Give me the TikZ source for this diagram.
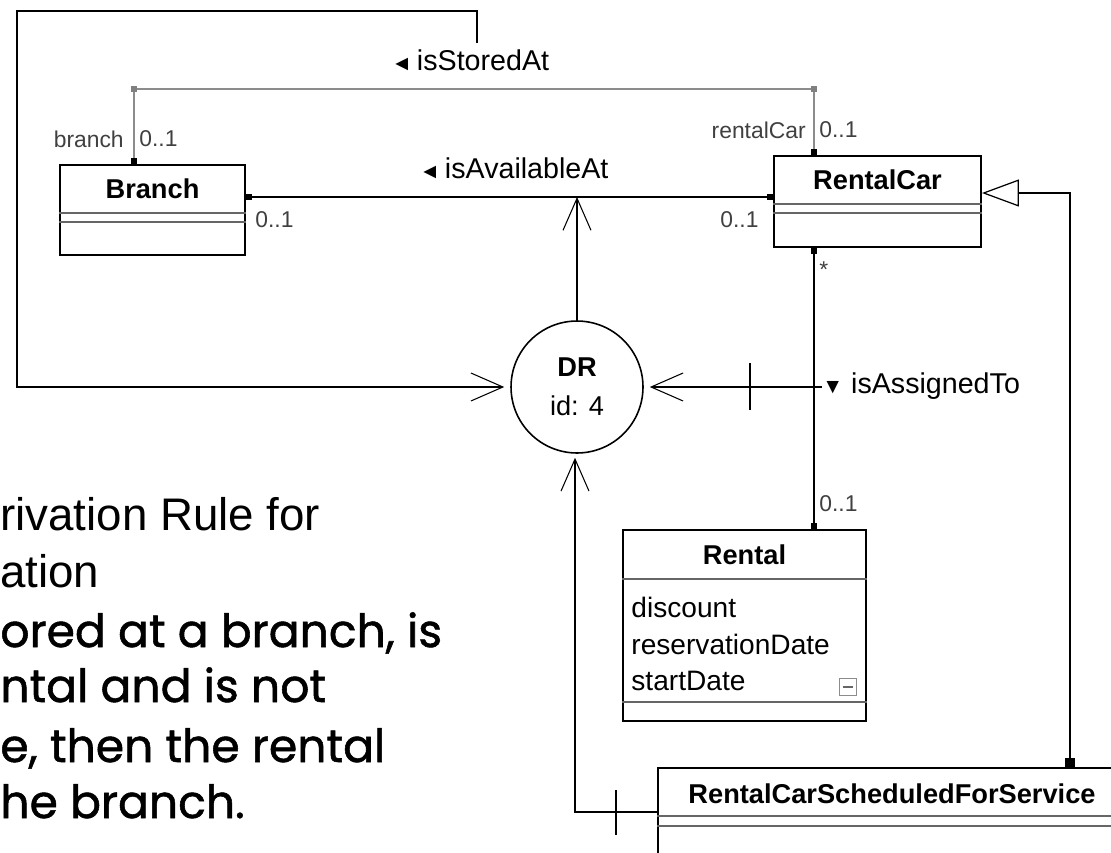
\documentclass[tikz,border=0pt]{standalone}
\usepackage{fontspec}
\setmainfont{Liberation Sans}
\newfontfamily\handfont[FakeBold=1.2]{Poppins}
\usetikzlibrary{arrows.meta,calc}

\begin{document}
\begin{tikzpicture}[x=0.02cm,y=-0.02cm,
  classbox/.style={draw,line width=1.1pt,fill=white,inner sep=0pt},
  compline/.style={black!60,line width=0.8pt},
  clsname/.style={font=\fontsize{15.5}{18}\selectfont\bfseries,inner sep=0pt},
  attr/.style={font=\fontsize{16}{18}\selectfont,inner sep=0pt,anchor=west},
  assocname/.style={font=\fontsize{16.3}{18}\selectfont,inner sep=0pt,anchor=west},
  role/.style={font=\fontsize{13}{15}\selectfont,text=black!75,inner sep=0pt},
  assoc/.style={line width=1.1pt},
  assocgray/.style={line width=1.1pt,black!45},
  ends/.style={arrows={Square[length=3.5pt,width=3.5pt,color=black]-Square[length=3.5pt,width=3.5pt,color=black]}},
  derive/.style={line width=1.1pt,-{Straight Barb[length=0.64cm,width=0.56cm,line width=0.6pt]}},
  rulenode/.style={circle,draw,line width=0.9pt,minimum size=2.64cm,inner sep=0pt,align=center,font=\fontsize{15.5}{22}\selectfont},
  slide/.style={font=\fontsize{26}{32}\selectfont,inner sep=0pt,anchor=base west},
  hand/.style={font=\handfont\fontsize{26}{32}\selectfont,inner sep=0pt,anchor=base west}]
\clip (0,0) rectangle (1111,852);

\coordinate (st1) at (134,89);
\coordinate (st2) at (814,89);
\coordinate (avl) at (580,197);
\coordinate (asg) at (814,387);
\coordinate (gen) at (1070,193);
\coordinate (svc) at (575,812);
\coordinate (fr1) at (477,43);
\coordinate (fr2) at (477,11);
\coordinate (fr3) at (17,11);

\node[classbox,minimum width=3.7cm,minimum height=1.8cm] (branch) at (152.5,210) {};
\node[clsname] (branchname) at ($(branch.north)+(0,25)$) {Branch};
\draw[compline] ($(branch.north west)+(0,49)$) -- ($(branch.north east)+(0,49)$);
\draw[compline] ($(branch.north west)+(0,58)$) -- ($(branch.north east)+(0,58)$);

\node[classbox,minimum width=4.14cm,minimum height=1.82cm] (rentalcar) at (877.5,201.5) {};
\node[clsname] (rentalcarname) at ($(rentalcar.north)+(0,25)$) {RentalCar};
\draw[compline] ($(rentalcar.north west)+(0,49)$) -- ($(rentalcar.north east)+(0,49)$);
\draw[compline] ($(rentalcar.north west)+(0,58)$) -- ($(rentalcar.north east)+(0,58)$);

\node[classbox,minimum width=4.86cm,minimum height=3.82cm] (rental) at (744.5,625.5) {};
\node[clsname] (rentalname) at ($(rental.north)+(0,26)$) {Rental};
\draw[compline] ($(rental.north west)+(0,50)$) -- ($(rental.north east)+(0,50)$);
\node[attr] (discount) at ($(rental.north west)+(9,78)$) {discount};
\node[attr] (resdate) at ($(rental.north west)+(9,115)$) {reservationDate};
\node[attr] (startdate) at ($(rental.north west)+(9,152)$) {startDate};
\node[draw=black!45,line width=0.6pt,minimum size=0.34cm,inner sep=0pt] (fold) at (848,687) {};
\draw[black!60,line width=0.6pt] ($(fold.west)+(4,0)$) -- ($(fold.east)+(-4,0)$);
\draw[compline] ($(rental.north west)+(0,173)$) -- ($(rental.north east)+(0,173)$);

\node[classbox,minimum width=9.36cm,minimum height=3.2cm] (service) at (892,848) {};
\node[clsname] (servicename) at ($(service.north)+(0,27)$) {RentalCarScheduledForService};
\draw[compline] ($(service.north west)+(0,49)$) -- ($(service.north east)+(0,49)$);
\draw[compline] ($(service.north west)+(0,59)$) -- ($(service.north east)+(0,59)$);

\node[rulenode] (dr) at (577,387) {\textbf{DR}\\id: 4};

\draw[assocgray,ends] (st1 |- branch.north) -- (st1) -- (st2) -- (st2 |- rentalcar.north);
\fill[black!50] ($(st1)+(-3,-3)$) rectangle ++(6,6);
\fill[black!50] ($(st2)+(-3,-3)$) rectangle ++(6,6);
\node[assocname] (storedlabel) at (391,60) {{\fontsize{12}{12}\selectfont ◄}\,isStoredAt};
\node[role,anchor=east] (branchrole) at (124,139) {branch};
\node[role,anchor=west] (branchmult) at (139,139) {0..1};
\node[role,anchor=east] (carrole) at (806,130) {rentalCar};
\node[role,anchor=west] (carmult) at (819,130) {0..1};

\draw[assoc,ends] (avl -| branch.east) -- (avl -| rentalcar.west);
\node[assocname] (availlabel) at (419,168) {{\fontsize{12}{12}\selectfont ◄}\,isAvailableAt};
\node[role,anchor=west] (availmult1) at (255,220) {0..1};
\node[role,anchor=west] (availmult2) at (720,220) {0..1};

\draw[assoc,ends] (rentalcar.south -| asg) -- (rental.north -| asg);
\draw[assoc] (asg) -- ++(8,0);
\node[assocname] (assignlabel) at (822,386) {{\fontsize{12}{12}\selectfont ▼}\ isAssignedTo};
\node[role,anchor=west] (assignmult1) at (819,270) {*};
\node[role,anchor=west] (assignmult2) at (819,504) {0..1};

\draw[assoc,{Square[length=5pt,width=6pt]}-{Triangle[open,fill=white,length=0.74cm,width=0.54cm,line width=0.7pt]}] (service.north -| gen) -- (gen) -- (gen -| rentalcar.east);

\draw[derive] (fr1) -- (fr2) -- (fr3) -- (fr3 |- dr.west) -- ($(dr.west)+(-6,0)$);
\draw[derive] (dr.north) -- (dr.north |- avl);
\draw[derive] (asg) -- ($(dr.east)+(6,0)$);
\draw[assoc] ($(asg)+(-64,-24)$) -- ++(0,47);
\draw[derive] (svc -| service.west) -- (svc) -- ($(svc |- dr.south)+(0,4)$);
\draw[assoc] ($(svc)+(41,-22)$) -- ++(0,45);

\node[slide] (rule1) at (0,530) {rivation Rule for};
\node[slide] (rule2) at (0,587) {ation};
\node[hand] (hand1) at (0,647) {ored at a branch, is};
\node[hand] (hand2) at (0,702) {ntal and is not};
\node[hand] (hand3) at (0,762) {e, then the rental};
\node[hand] (hand4) at (0,818) {he branch.};
\end{tikzpicture}
\end{document}
